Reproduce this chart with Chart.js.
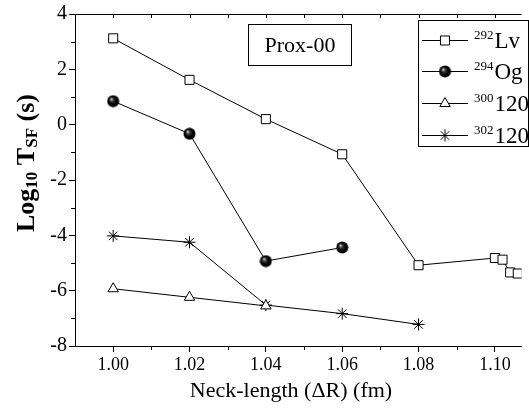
<!DOCTYPE html>
<html>
<head>
<meta charset="utf-8">
<script src="https://cdn.jsdelivr.net/npm/chart.js@4/dist/chart.umd.min.js"></script>
<style>
  html, body { margin: 0; padding: 0; background: #fff; }
  #wrap { width: 529px; height: 409px; position: relative; }
</style>
</head>
<body>
<div id="wrap"><canvas id="canvas"></canvas></div>
<script>
"use strict";

// data
const xLv = [1.00, 1.02, 1.04, 1.06, 1.08, 1.100, 1.102, 1.104, 1.106];
const yLv = [3.12, 1.62, 0.20, -1.07, -5.08, -4.82, -4.88, -5.34, -5.38];
const xOg = [1.00, 1.02, 1.04, 1.06];
const yOg = [0.85, -0.33, -4.93, -4.44];
const x300 = [1.00, 1.02, 1.04];
const y300 = [-5.93, -6.24, -6.55];
const x302 = [1.00, 1.02, 1.04, 1.06, 1.08];
const y302 = [-4.02, -4.25, -6.52, -6.83, -7.22];

const xTicks = [1.00, 1.02, 1.04, 1.06, 1.08, 1.10];
const xMinor = [0.99, 1.01, 1.03, 1.05, 1.07, 1.09];
const yTicks = [-8, -6, -4, -2, 0, 2, 4];
const yMinor = [-7, -5, -3, -1, 1, 3];

const legendMass = ["292", "294", "300", "302"];
const legendName = ["Lv", "Og", "120", "120"];

const SERIF = "'Liberation Serif', 'DejaVu Serif', serif";

const canvas = document.getElementById("canvas");
const ctx = canvas.getContext("2d");

// shaded ball marker for Og
const ball = document.createElement("canvas");
ball.width = 13;
ball.height = 13;
{
  const b = ball.getContext("2d");
  const g = b.createRadialGradient(4.6, 4.4, 0.3, 6.5, 6.5, 6.5);
  g.addColorStop(0, "#d8d8d8");
  g.addColorStop(0.25, "#3a3a3a");
  g.addColorStop(0.6, "#000");
  g.addColorStop(1, "#000");
  b.fillStyle = g;
  b.beginPath();
  b.arc(6.5, 6.5, 6, 0, Math.PI * 2);
  b.fill();
}

const toPts = (xs, ys) => xs.map((x, i) => ({ x: x, y: ys[i] }));

const base = {
  borderColor: "#000",
  borderWidth: 1,
  pointBorderColor: "#000",
  pointBackgroundColor: "#fff",
  pointBorderWidth: 1,
  fill: false,
  tension: 0,
};

const datasets = [
  Object.assign({}, base, { data: toPts(xLv, yLv), pointStyle: "rect", pointRadius: 6.4 }),
  Object.assign({}, base, { data: toPts(xOg, yOg), pointStyle: ball, pointRadius: 6 }),
  Object.assign({}, base, { data: toPts(x300, y300), pointStyle: "triangle", pointRadius: 6 }),
  Object.assign({}, base, { data: toPts(x302, y302), pointStyle: "star", pointRadius: 6 }),
];

const decor = {
  id: "decor",
  afterDraw(chart) {
    const c = chart.ctx;
    const a = chart.chartArea;
    const xs = chart.scales.x;
    const ys = chart.scales.y;
    c.save();
    c.strokeStyle = "#000";
    c.lineWidth = 1;

    // top frame line with small inward ticks
    c.beginPath();
    c.moveTo(a.left, a.top + 0.5);
    c.lineTo(a.right, a.top + 0.5);
    xTicks.concat(xMinor).forEach((v) => {
      const px = Math.round(xs.getPixelForValue(v)) + 0.5;
      if (px > a.left + 1 && px < a.right) {
        c.moveTo(px, a.top);
        c.lineTo(px, a.top + 4);
      }
    });
    // minor ticks outward
    xMinor.forEach((v) => {
      const px = Math.round(xs.getPixelForValue(v)) + 0.5;
      if (px > a.left + 1) {
        c.moveTo(px, a.bottom);
        c.lineTo(px, a.bottom + 4);
      }
    });
    yMinor.forEach((v) => {
      const py = Math.round(ys.getPixelForValue(v)) + 0.5;
      c.moveTo(a.left, py);
      c.lineTo(a.left - 4, py);
    });
    c.stroke();

    // "Prox-00" box
    c.strokeRect(248.5, 24.5, 103, 41);
    c.fillStyle = "#000";
    c.font = "22px " + SERIF;
    c.textAlign = "center";
    c.textBaseline = "middle";
    c.fillText("Prox-00", 300, 46);

    // legend
    c.strokeRect(418.5, 20.5, 110, 126);
    const rows = [40, 71, 103, 135];
    rows.forEach((ry, i) => {
      const ds = chart.data.datasets[i];
      c.strokeStyle = "#000";
      c.beginPath();
      c.moveTo(422, ry + 0.5);
      c.lineTo(468, ry + 0.5);
      c.stroke();
      c.fillStyle = "#fff";
      c.lineWidth = 1;
      Chart.helpers.drawPoint(c, { pointStyle: ds.pointStyle, radius: ds.pointRadius, borderWidth: 1 }, 445, ry + 0.5);
      c.fillStyle = "#000";
      c.textAlign = "left";
      c.textBaseline = "alphabetic";
      c.font = "13px " + SERIF;
      c.fillText(legendMass[i], 474, ry - 1);
      const w = c.measureText(legendMass[i]).width;
      c.font = "23px " + SERIF;
      c.fillText(legendName[i], 474 + w + 1, ry + 8);
    });

    // x axis title
    c.font = "22px " + SERIF;
    c.textAlign = "center";
    c.textBaseline = "middle";
    c.fillText("Neck-length (\u0394R) (fm)", 291, 391);

    // y axis title with subscripts
    c.translate(27, 163);
    c.rotate(-Math.PI / 2);
    const parts = [
      ["Log", "bold 26px " + SERIF, 0],
      ["10", "bold 17px " + SERIF, 6],
      [" T", "bold 26px " + SERIF, 0],
      ["SF", "bold 17px " + SERIF, 6],
      [" (s)", "bold 26px " + SERIF, 0],
    ];
    let total = 0;
    parts.forEach((p) => { c.font = p[1]; total += c.measureText(p[0]).width; });
    let xx = -total / 2;
    c.textAlign = "left";
    c.textBaseline = "middle";
    parts.forEach((p) => {
      c.font = p[1];
      c.fillText(p[0], xx, p[2]);
      xx += c.measureText(p[0]).width;
    });
    c.restore();
  },
};

new Chart(ctx, {
  type: "line",
  data: { datasets: datasets },
  plugins: [decor],
  options: {
    responsive: true,
    maintainAspectRatio: false,
    animation: false,
    layout: { padding: { top: 13, right: 0, left: 0, bottom: 0 } },
    plugins: {
      legend: { display: false },
      tooltip: { enabled: false },
    },
    scales: {
      x: {
        type: "linear",
        min: 0.99,
        max: 1.107,
        afterBuildTicks: (scale) => {
          scale.ticks = xTicks.map((v) => ({ value: v }));
        },
        afterFit: (scale) => { scale.height = 63; },
        grid: { drawOnChartArea: false, tickLength: 6, color: "#000" },
        border: { display: true, color: "#000", width: 1 },
        ticks: {
          color: "#000",
          font: { family: SERIF, size: 18 },
          padding: 2,
          maxRotation: 0,
          callback: (v) => v.toFixed(2),
        },
      },
      y: {
        type: "linear",
        min: -8,
        max: 4,
        afterBuildTicks: (scale) => {
          scale.ticks = yTicks.map((v) => ({ value: v }));
        },
        afterFit: (scale) => { scale.width = 75; },
        grid: { drawOnChartArea: false, tickLength: 6, color: "#000" },
        border: { display: true, color: "#000", width: 1 },
        ticks: {
          color: "#000",
          font: { family: SERIF, size: 20 },
          padding: 2,
          callback: (v) => String(v),
        },
      },
    },
  },
});
</script>
</body>
</html>
